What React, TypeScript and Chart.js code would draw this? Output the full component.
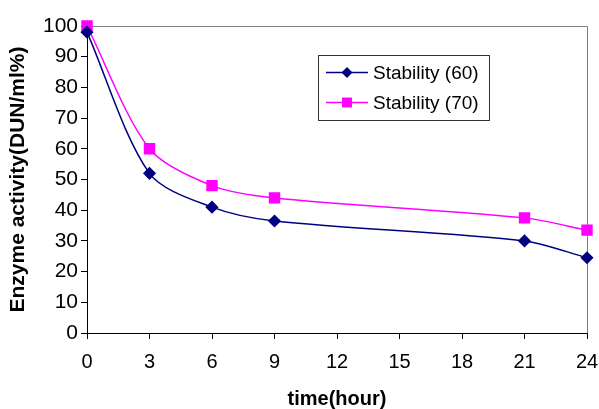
import React, { useEffect, useRef } from "react";
import { Chart, registerables } from "chart.js";

Chart.register(...registerables);

const hours = [0, 3, 6, 9, 21, 24];
const stability60 = [98, 52, 41, 36.5, 30, 24.5];
const stability70 = [100, 60, 48, 44, 37.5, 33.5];
const seriesLabels = ["Stability (60)", "Stability (70)"];
const xTitle = "time(hour)";
const yTitle = "Enzyme activity(DUN/ml%)";

const FONT = "'Liberation Sans', Arial, sans-serif";
const NAVY = "#000080";
const MAGENTA = "#FF00FF";

function drawMarker(ctx: CanvasRenderingContext2D, style: string, x: number, y: number, r: number, color: string) {
  ctx.save();
  ctx.fillStyle = color;
  ctx.beginPath();
  if (style === "rectRot") {
    ctx.moveTo(x - r, y);
    ctx.lineTo(x, y - r);
    ctx.lineTo(x + r, y);
    ctx.lineTo(x, y + r);
    ctx.closePath();
  } else {
    const s = Math.SQRT1_2 * r;
    ctx.rect(x - s, y - s, 2 * s, 2 * s);
  }
  ctx.fill();
  ctx.restore();
}

const framePlugin = {
  id: "frameAndLegend",
  beforeDatasetsDraw(chart: any) {
    const { ctx, chartArea } = chart;
    const { left, right, top, bottom } = chartArea;
    ctx.save();
    ctx.strokeStyle = "#808080";
    ctx.lineWidth = 1;
    ctx.beginPath();
    ctx.moveTo(left, Math.round(top) + 0.5);
    ctx.lineTo(Math.round(right) + 0.5, Math.round(top) + 0.5);
    ctx.lineTo(Math.round(right) + 0.5, bottom);
    ctx.stroke();
    ctx.restore();
  },
  afterDraw(chart: any) {
    const { ctx } = chart;
    ctx.save();
    const bx = 318.5, by = 55.5, bw = 171, bh = 65;
    ctx.fillStyle = "#ffffff";
    ctx.fillRect(bx, by, bw, bh);
    ctx.strokeStyle = "#333333";
    ctx.lineWidth = 1;
    ctx.strokeRect(bx, by, bw, bh);
    const rows = [72.5, 102.5];
    chart.data.datasets.forEach((ds: any, i: number) => {
      const y = rows[i];
      ctx.strokeStyle = ds.borderColor;
      ctx.lineWidth = ds.borderWidth;
      ctx.beginPath();
      ctx.moveTo(326, y);
      ctx.lineTo(368, y);
      ctx.stroke();
      drawMarker(ctx, ds.pointStyle, 347, y, ds.pointRadius, ds.pointBackgroundColor);
      ctx.fillStyle = "#000";
      ctx.font = `19px ${FONT}`;
      ctx.textBaseline = "middle";
      ctx.textAlign = "left";
      ctx.fillText(ds.label, 373, y + 1);
    });
    ctx.restore();
  },
};

export default function App() {
  const ref = useRef<HTMLCanvasElement | null>(null);

  useEffect(() => {
    document.body.style.margin = "0";
    const canvas = ref.current!;
    const chart = new Chart(canvas, {
      type: "line",
      data: {
        datasets: [
          {
            label: seriesLabels[0],
            data: hours.map((h, i) => ({ x: h, y: stability60[i] })),
            borderColor: NAVY,
            backgroundColor: NAVY,
            pointBackgroundColor: NAVY,
            pointBorderColor: NAVY,
            pointStyle: "rectRot",
            pointRadius: 5.5,
            borderWidth: 1.5,
            tension: 0.3,
            fill: false,
            clip: false,
          },
          {
            label: seriesLabels[1],
            data: hours.map((h, i) => ({ x: h, y: stability70[i] })),
            borderColor: MAGENTA,
            backgroundColor: MAGENTA,
            pointBackgroundColor: MAGENTA,
            pointBorderColor: MAGENTA,
            pointStyle: "rect",
            pointRadius: 7,
            borderWidth: 1.5,
            tension: 0.3,
            fill: false,
            clip: false,
          },
        ],
      },
      options: {
        animation: false,
        responsive: false,
        maintainAspectRatio: false,
        layout: { padding: { top: 26, right: 12, left: 0, bottom: 0 } },
        plugins: { legend: { display: false }, tooltip: { enabled: false } },
        scales: {
          x: {
            type: "linear",
            min: 0,
            max: 24,
            afterFit: (s: any) => { s.height = 76; s.paddingRight = 0; s.paddingLeft = 0; },
            ticks: { stepSize: 3, color: "#000", font: { family: FONT, size: 20 }, padding: 11, maxRotation: 0, autoSkip: false },
            grid: { display: true, drawOnChartArea: false, drawTicks: true, tickLength: 6, color: "#000" },
            border: { color: "#000", width: 1 },
            title: { display: true, text: xTitle, color: "#000", font: { family: FONT, size: 20, weight: "bold", lineHeight: 1 }, padding: { top: 0, bottom: 0 } },
          },
          y: {
            min: 0,
            max: 100,
            afterFit: (s: any) => { s.width = 87; s.paddingTop = 0; s.paddingBottom = 0; },
            ticks: { stepSize: 10, color: "#000", font: { family: FONT, size: 21 }, padding: 3 },
            grid: { display: true, drawOnChartArea: false, drawTicks: true, tickLength: 6, color: "#000" },
            border: { color: "#000", width: 1 },
            title: { display: true, text: yTitle, color: "#000", font: { family: FONT, size: 21, weight: "bold", lineHeight: 1 }, padding: { top: 8, bottom: 0 } },
          },
        },
      } as any,
      plugins: [framePlugin],
    });
    return () => chart.destroy();
  }, []);

  return (
    <div style={{ position: "fixed", left: 0, top: 0, width: 599, height: 409, background: "#fff" }}>
      <canvas ref={ref} width={599} height={409} style={{ width: 599, height: 409, display: "block" }} />
    </div>
  );
}
